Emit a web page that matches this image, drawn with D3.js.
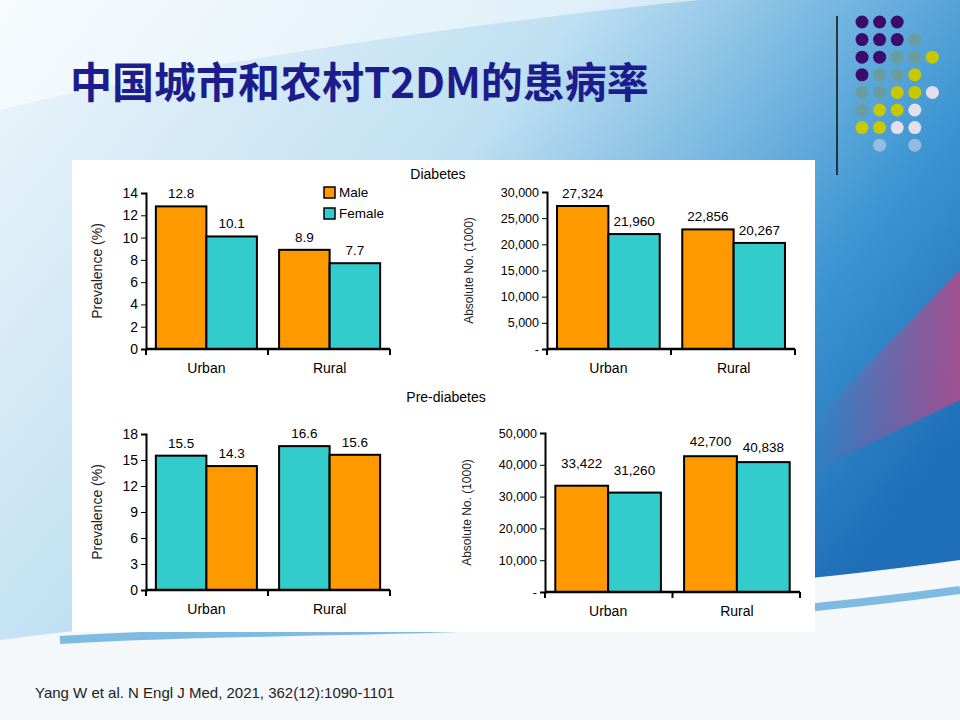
<!DOCTYPE html>
<html>
<head>
<meta charset="utf-8">
<script src="https://d3js.org/d3.v7.min.js"></script>
<style>
  body { margin: 0; }
  svg { display: block; font-family: "Liberation Sans", Arial, sans-serif; }
</style>
</head>
<body>
<svg id="slide" width="960" height="720"></svg>
<script>
// data
const places = ['Urban', 'Rural'];
const diabPrev = [[12.8, 10.1], [8.9, 7.7]];          // [male, female]
const diabAbs = [[27324, 21960], [22856, 20267]];
const prePrev = [[15.5, 14.3], [16.6, 15.6]];          // colors as drawn: teal, orange
const preAbs = [[33422, 31260], [42700, 40838]];
const prevTicks1 = [0, 2, 4, 6, 8, 10, 12, 14];
const absTicks1 = [0, 5000, 10000, 15000, 20000, 25000, 30000];
const prevTicks2 = [0, 3, 6, 9, 12, 15, 18];
const absTicks2 = [0, 10000, 20000, 30000, 40000, 50000];

const ORANGE = '#ff9900', TEAL = '#33cccc';
const svg = d3.select('#slide');

// background
const defs = svg.append('defs');
const bg = defs.append('linearGradient').attr('id', 'bg').attr('x1', 0).attr('y1', 0).attr('x2', 1).attr('y2', 0.6);
bg.append('stop').attr('offset', 0).attr('stop-color', '#eef6fb');
bg.append('stop').attr('offset', 0.45).attr('stop-color', '#bfe0f2');
bg.append('stop').attr('offset', 0.8).attr('stop-color', '#3d95d2');
bg.append('stop').attr('offset', 1).attr('stop-color', '#1f6fb8');
svg.append('rect').attr('width', 960).attr('height', 720).attr('fill', 'url(#bg)');
const pink = defs.append('linearGradient').attr('id', 'pink').attr('x1', 0).attr('y1', 0).attr('x2', 1).attr('y2', 0);
pink.append('stop').attr('offset', 0).attr('stop-color', '#b04d8c').attr('stop-opacity', 0);
pink.append('stop').attr('offset', 1).attr('stop-color', '#b04d8c').attr('stop-opacity', 0.9);
svg.append('path').attr('d', 'M815,420 L960,270 L960,400 L815,470Z').attr('fill', 'url(#pink)');
// lower white area with swoosh
svg.append('path').attr('d', 'M0,640 C300,600 600,610 960,560 L960,720 L0,720Z').attr('fill', '#f4f8fb');
svg.append('path').attr('d', 'M60,640 C300,625 600,640 960,590').attr('fill', 'none').attr('stroke', '#4d9fd6').attr('stroke-width', 8).attr('opacity', 0.7);
svg.append('path').attr('d', 'M0,110 C200,60 500,20 700,0 L0,0Z').attr('fill', '#ffffff').attr('opacity', 0.5);

// dots
const dotColors = { P: '#3b0c6c', T: '#6a9e9e', Y: '#c8c800', L: '#e2deeb' };
const dotRows = ['PPP', 'PPPT', 'PPTTY', 'PTTY', 'TTYYL', 'TYYL', 'YYLL', '.L.L'];
dotRows.forEach((row, r) => row.split('').forEach((c, k) => {
  if (c === '.') return;
  svg.append('circle').attr('cx', 862 + k * 17.6).attr('cy', 22 + r * 17.6).attr('r', 6.5)
    .attr('fill', dotColors[c]).attr('opacity', r === 7 ? 0.5 : 1);
}));
svg.append('line').attr('x1', 837).attr('x2', 837).attr('y1', 16).attr('y2', 175).attr('stroke', '#111').attr('stroke-width', 1.5);

// title
svg.append('text').attr('x', 70).attr('y', 98).attr('font-size', 42).attr('font-weight', 'bold')
  .attr('fill', '#1c1c8c').attr('font-family', '"Noto Sans CJK SC", sans-serif')
  .text('中国城市和农村T2DM的患病率');

// panel
svg.append('rect').attr('x', 72).attr('y', 160).attr('width', 743).attr('height', 472).attr('fill', '#fff');

svg.append('text').attr('x', 438).attr('y', 179).attr('text-anchor', 'middle').attr('font-size', 14).text('Diabetes');
svg.append('text').attr('x', 446).attr('y', 402).attr('text-anchor', 'middle').attr('font-size', 14).text('Pre-diabetes');

function chart(o) {
  const g = svg.append('g');
  const x = d3.scaleBand().domain(places).range([o.x0, o.x1]).paddingInner(0.18).paddingOuter(0.08);
  const y = d3.scaleLinear().domain([0, o.max]).range([o.y0, o.y1]);
  const sub = d3.scaleBand().domain([0, 1]).range([0, x.bandwidth()]);
  const fmt = o.abs ? d3.format(',') : (v => v.toFixed(1));
  places.forEach((p, i) => o.data[i].forEach((v, j) => {
    g.append('rect').attr('x', x(p) + sub(j)).attr('y', y(v)).attr('width', sub.bandwidth())
      .attr('height', y(0) - y(v)).attr('fill', o.colors[j]).attr('stroke', '#000').attr('stroke-width', 2);
    g.append('text').attr('x', x(p) + sub(j) + sub.bandwidth() / 2).attr('y', y(v) - (o.lift[i][j]))
      .attr('text-anchor', 'middle').attr('font-size', 13.5).text(fmt(v));
  }));
  const ya = g.append('g').attr('transform', `translate(${o.x0},0)`)
    .call(d3.axisLeft(y).tickValues(o.ticks).tickSize(5).tickFormat(v => o.abs ? (v === 0 ? '-' : d3.format(',')(v)) : v));
  ya.select('.domain').attr('stroke-width', 2);
  ya.selectAll('text').attr('font-size', o.abs ? 12.5 : 14).attr('fill', '#000');
  const xa = g.append('g').attr('transform', `translate(0,${o.y0})`)
    .call(d3.axisBottom(x).tickSize(0).tickPadding(14));
  xa.select('.domain').attr('stroke-width', 2.5).attr('d', `M${o.x0},0H${o.x1}`);
  xa.selectAll('text').attr('font-size', 14).attr('fill', '#000');
  [o.x0, (o.x0 + o.x1) / 2, o.x1].forEach(t => g.append('line').attr('x1', t).attr('x2', t)
    .attr('y1', o.y0).attr('y2', o.y0 + 6).attr('stroke', '#000').attr('stroke-width', 2));
  g.append('text').attr('transform', `translate(${o.x0 - (o.abs ? 74 : 44)},${(o.y0 + o.y1) / 2}) rotate(-90)`)
    .attr('text-anchor', 'middle').attr('font-size', o.abs ? 12 : 14).attr('fill', '#222')
    .text(o.abs ? 'Absolute No. (1000)' : 'Prevalence (%)');
}

chart({ x0: 146, x1: 390, y0: 349, y1: 193, max: 14, ticks: prevTicks1, data: diabPrev,
  colors: [ORANGE, TEAL], abs: false, lift: [[8, 8], [8, 8]] });
chart({ x0: 547, x1: 795, y0: 349, y1: 192, max: 30000, ticks: absTicks1, data: diabAbs,
  colors: [ORANGE, TEAL], abs: true, lift: [[8, 8], [8, 8]] });
chart({ x0: 146, x1: 390, y0: 590, y1: 434, max: 18, ticks: prevTicks2, data: prePrev,
  colors: [TEAL, ORANGE], abs: false, lift: [[8, 8], [8, 8]] });
chart({ x0: 545, x1: 800, y0: 592, y1: 433, max: 50000, ticks: absTicks2, data: preAbs,
  colors: [ORANGE, TEAL], abs: true, lift: [[18, 18], [10, 10]] });

// legend
[['Male', ORANGE], ['Female', TEAL]].forEach(([t, c], i) => {
  svg.append('rect').attr('x', 324).attr('y', 187 + i * 21).attr('width', 11).attr('height', 11)
    .attr('fill', c).attr('stroke', '#000').attr('stroke-width', 1.5);
  svg.append('text').attr('x', 339).attr('y', 197 + i * 21).attr('font-size', 13.5).text(t);
});

svg.append('text').attr('x', 35).attr('y', 698).attr('font-size', 15).attr('fill', '#222')
  .text('Yang W et al. N Engl J Med, 2021, 362(12):1090-1101');
</script>
</body>
</html>
